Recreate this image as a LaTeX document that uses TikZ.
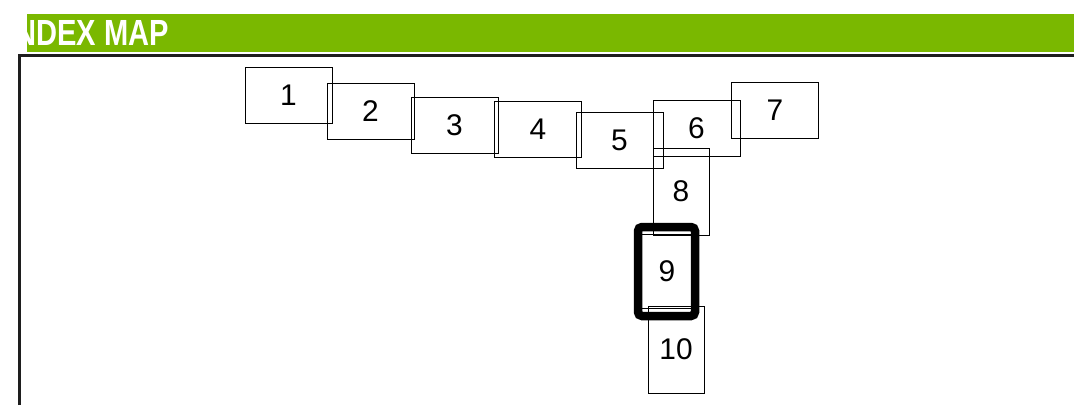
\documentclass[tikz,border=0pt]{standalone}
\usepackage{fontspec}
\setmainfont{Liberation Sans}
\definecolor{bandgreen}{RGB}{122,184,0}
\definecolor{frameline}{RGB}{30,30,30}
\begin{document}
\begin{tikzpicture}[x=1bp,y=-1bp,
  mapbox/.style={draw=black, line width=0.9bp, inner sep=0pt, font=\fontsize{30}{34}\selectfont},
  wide/.style={mapbox, minimum width=87bp, minimum height=56bp},
  tall/.style={mapbox, minimum width=56bp, minimum height=87bp},
  highlight/.style={draw=black, line width=8.5bp, rounded corners=4bp, inner sep=0pt, minimum width=57bp, minimum height=89bp}]
\useasboundingbox (0,0) rectangle (1074,405);
% header band
\fill[bandgreen] (27,14) rectangle (1074,52);
\begin{scope}
\clip (27,14) rectangle (1074,52);
\node[anchor=base east, inner sep=0pt, text=white, xscale=0.8,
      font=\fontsize{36.5}{40}\selectfont\bfseries] (title) at (169,45) {INDEX MAP};
\end{scope}
% frame
\draw[frameline, line width=2.4bp] (19.5,405) -- (19.5,55.5) -- (1074,55.5);
% boxes
\node[wide] (b1) at (288.5,95) {1};
\node[wide] (b2) at (370.5,111) {2};
\node[wide] (b3) at (454.5,125) {3};
\node[wide] (b4) at (538,129.5) {4};
\node[wide] (b5) at (619.5,140) {5};
\node[wide] (b6) at (696.5,128.5) {6};
\node[wide] (b7) at (775,110) {7};
\node[tall] (b8) at (681,191.5) {8};
\node[mapbox, minimum width=54bp, minimum height=74bp] (b9) at (667,271) {9};
\node[tall] (b10) at (676,349.5) {10};
\node[highlight] (h9) at (666.5,271.5) {};
\end{tikzpicture}
\end{document}
